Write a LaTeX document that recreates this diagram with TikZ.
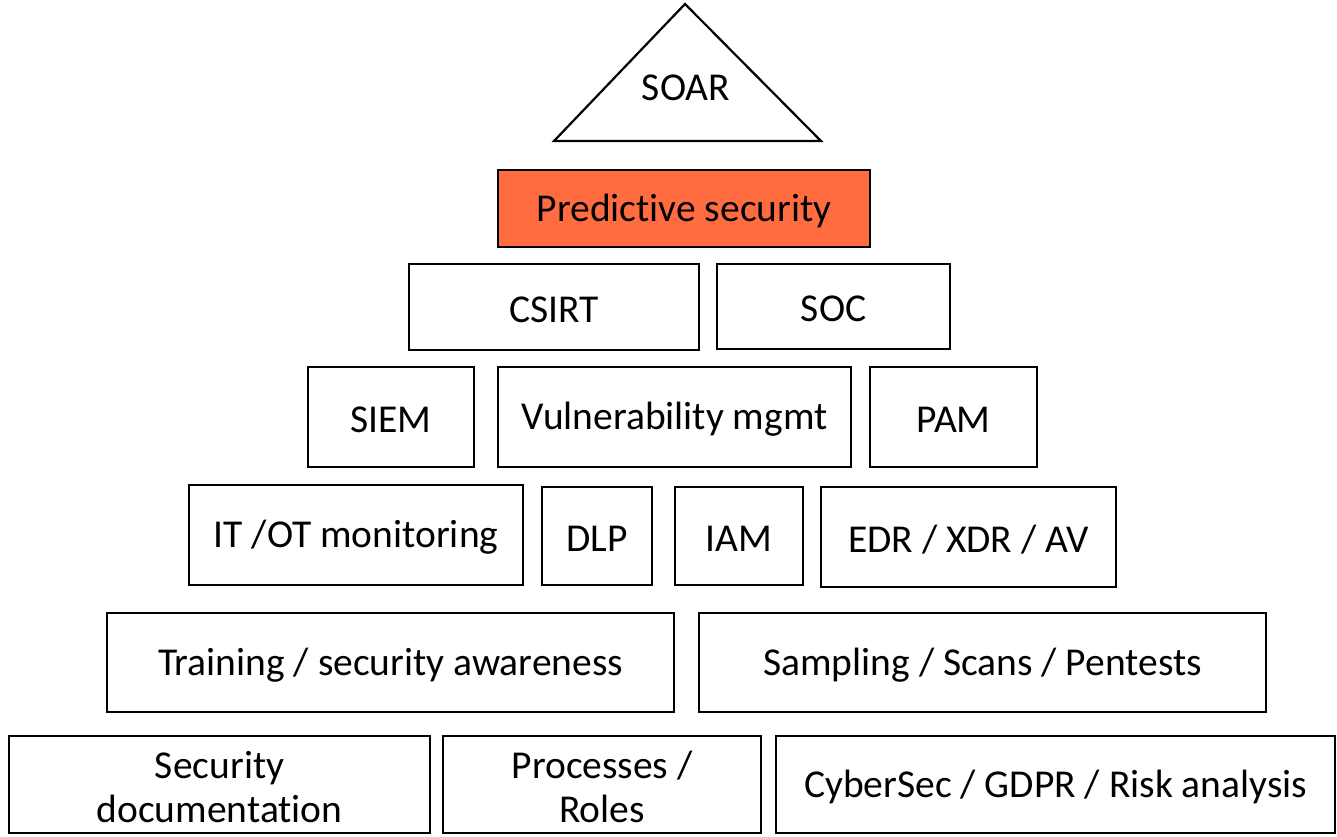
\documentclass[tikz,border=0pt]{standalone}
\usepackage{fontspec}
\setmainfont[Ligatures=NoCommon]{Carlito}
\definecolor{predorange}{HTML}{FF6C3F}
\tikzset{
  box/.style={draw=black, line width=2.2pt, rectangle, anchor=north west, inner sep=0pt},
  lbl/.style={inner sep=0pt, align=center, font=\fontsize{39.5}{44}\selectfont, text=black}
}
\newcommand{\bx}[7][]{%
  \node[box, #1, minimum width={(#5)-(#3)}, minimum height={(#6)-(#4)}] (#2) at (#3,#4) {};
  \node[lbl] (#2-text) at ([yshift=-2.5pt]#2.center) {#7};}
\begin{document}
\begin{tikzpicture}[x=1pt,y=-1pt]
\useasboundingbox (0,0) rectangle (1337,836);
% SOAR triangle
\coordinate (apex) at (685,4);
\coordinate (bl) at (554,141);
\coordinate (br) at (821,141);
\draw[line width=2.2pt, line join=miter] (apex) -- (br) -- (bl) -- cycle;
\node[lbl] (soar) at (686,88) {SOAR};
% boxes
\bx[fill=predorange]{pred}{497}{169}{869}{246}{Predictive security}
\bx{csirt}{408}{263}{698}{349}{CSIRT}
\bx{soc}{716}{263}{949}{348}{SOC}
\bx{siem}{307}{366}{473}{466}{SIEM}
\bx{vuln}{497}{366}{850}{466}{Vulnerability mgmt}
\bx{pam}{869}{366}{1036}{466}{PAM}
\bx{itot}{188}{484}{522}{584}{IT /OT monitoring}
\bx{dlp}{541}{486}{651}{584}{DLP}
\bx{iam}{674}{486}{802}{584}{IAM}
\bx{edr}{820}{486}{1115}{586}{EDR / XDR / AV}
\bx{train}{106}{612}{673}{711}{Training / security awareness}
\bx{samp}{698}{612}{1265}{711}{Sampling / Scans / Pentests}
\bx{secdoc}{8}{735}{429}{832}{Security\\documentation}
\bx{proc}{442}{735}{760}{832}{Processes /\\Roles}
\bx{cyber}{775}{735}{1334}{832}{CyberSec / GDPR / Risk analysis}
\end{tikzpicture}
\end{document}
